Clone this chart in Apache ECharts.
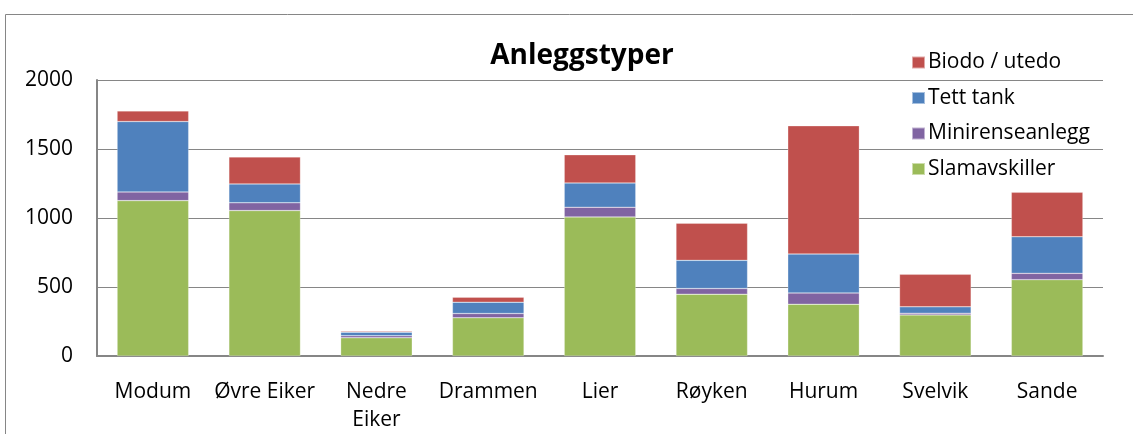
<!DOCTYPE html>
<html>
<head>
<meta charset="utf-8">
<script src="https://cdn.jsdelivr.net/npm/echarts@6/dist/echarts.min.js"></script>
<style>
  html, body { margin: 0; padding: 0; background: #fff; }
  #chart { width: 1133px; height: 434px; }
</style>
</head>
<body>
<div id="chart"></div>
<script>
const kommuner = ['Modum', 'Øvre Eiker', 'Nedre\nEiker', 'Drammen', 'Lier', 'Røyken', 'Hurum', 'Svelvik', 'Sande'];
const slamavskiller = [1126, 1054, 132, 277, 1008, 448, 375, 298, 553];
const minirenseanlegg = [63, 56, 15, 31, 70, 41, 82, 12, 46];
const tettTank = [510, 137, 26, 82, 176, 204, 282, 46, 265];
const biodoUtedo = [77, 195, 7, 36, 204, 269, 929, 236, 322];
const yTicks = [0, 500, 1000, 1500, 2000];

const font = '"Open Sans", "Liberation Sans", sans-serif';
const chart = echarts.init(document.getElementById('chart'));

// one stacked series per anleggstype
const mkSeries = (name, data, color) => ({
    name: name,
    type: 'bar',
    stack: 'total',
    data: data,
    barWidth: '64%',
    itemStyle: { color: color, borderColor: 'rgba(255,255,255,0.5)', borderWidth: 0.5 },
    emphasis: { disabled: true }
});

chart.setOption({
    animation: false,
    textStyle: { fontFamily: font },
    graphic: [{
        type: 'rect',
        shape: { x: 5.5, y: 14.5, width: 1140, height: 440 },
        style: { fill: 'none', stroke: '#868686', lineWidth: 1 },
        silent: true
    }],
    title: {
        text: 'Anleggstyper',
        left: 577,
        textAlign: 'center',
        top: 37,
        textStyle: { fontFamily: font, fontSize: 28, fontWeight: 'bold', color: '#000' }
    },
    legend: {
        orient: 'vertical',
        left: 906,
        top: 47,
        itemWidth: 13,
        itemHeight: 12,
        itemGap: 14.5,
        icon: 'rect',
        data: ['Biodo / utedo', 'Tett tank', 'Minirenseanlegg', 'Slamavskiller'],
        textStyle: { fontFamily: font, fontSize: 21, color: '#000', padding: [0, 0, 0, -2] }
    },
    grid: { left: 97, right: 30, top: 80, bottom: 77 },
    xAxis: {
        type: 'category',
        data: kommuner,
        axisLine: { lineStyle: { color: '#868686', width: 2 } },
        axisTick: { show: false },
        axisLabel: { fontSize: 21, color: '#000', margin: 22, lineHeight: 28, interval: 0 }
    },
    yAxis: {
        type: 'value',
        min: yTicks[0],
        max: yTicks[yTicks.length - 1],
        interval: 500,
        axisLine: { show: true, lineStyle: { color: '#868686', width: 2 } },
        axisTick: { show: false },
        axisLabel: { fontSize: 21, color: '#000', margin: 24, formatter: v => String(v) },
        splitLine: { lineStyle: { color: '#868686', width: 1 } }
    },
    series: [
        mkSeries('Slamavskiller', slamavskiller, '#9BBB59'),
        mkSeries('Minirenseanlegg', minirenseanlegg, '#8064A2'),
        mkSeries('Tett tank', tettTank, '#4F81BD'),
        mkSeries('Biodo / utedo', biodoUtedo, '#C0504D')
    ]
});
</script>
</body>
</html>
